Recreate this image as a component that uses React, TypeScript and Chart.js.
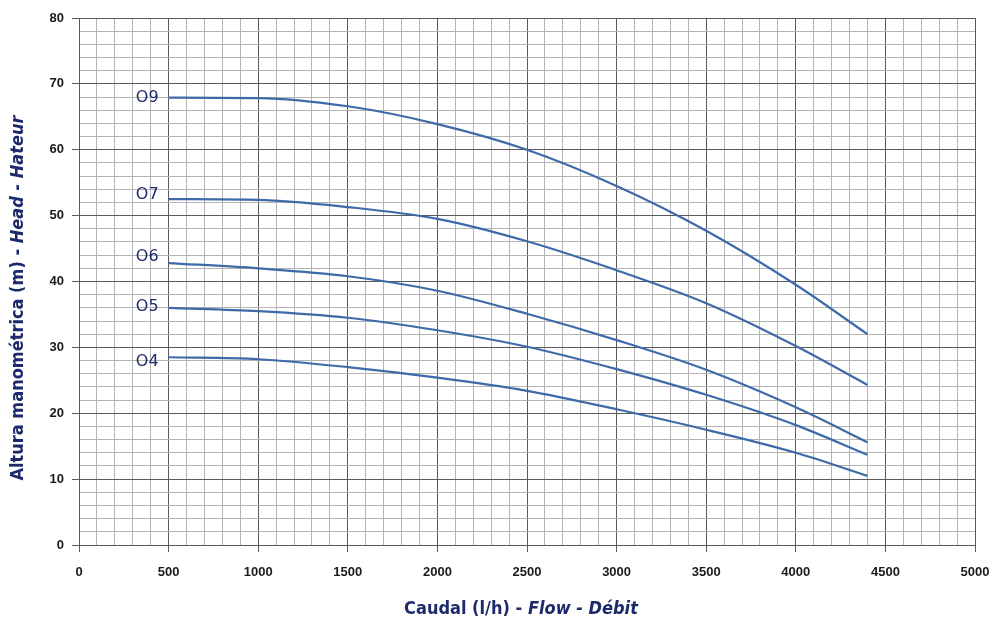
import React, { useEffect, useRef } from "react";
import { Chart, registerables } from "chart.js";

Chart.register(...registerables);

const flow = [500, 1000, 1500, 2000, 2500, 3000, 3500, 4000, 4400];
const seriesNames = ["O9", "O7", "O6", "O5", "O4"];
const head09 = [67.9, 67.85, 66.6, 63.9, 60.0, 54.5, 47.7, 39.5, 32.0];
const head07 = [52.5, 52.4, 51.3, 49.5, 46.1, 41.7, 36.7, 30.2, 24.3];
const head06 = [42.8, 42.0, 40.8, 38.6, 35.1, 31.1, 26.6, 20.9, 15.6];
const head05 = [36.0, 35.5, 34.5, 32.6, 30.1, 26.7, 22.8, 18.2, 13.7];
const head04 = [28.5, 28.2, 27.0, 25.4, 23.4, 20.6, 17.5, 14.0, 10.5];
const labelHeads = [67.9, 53.1, 43.7, 36.1, 27.8];
const xLabels = ["0", "500", "1000", "1500", "2000", "2500", "3000", "3500", "4000", "4500", "5000"];
const yLabels = ["0", "10", "20", "30", "40", "50", "60", "70", "80"];

const NAVY = "#1c2a6c";
const LINE = "#3d6aa9";

export default function App() {
  const ref = useRef<HTMLCanvasElement>(null);
  useEffect(() => {
    const all = [head09, head07, head06, head05, head04];
    const labelPlugin = {
      id: "labelsAndTitles",
      afterDraw(chart: any) {
        const ctx = chart.ctx;
        const xs = chart.scales.x;
        const ys = chart.scales.y;
        ctx.save();
        ctx.fillStyle = NAVY;
        ctx.font = "16px 'DejaVu Sans'";
        ctx.textAlign = "right";
        ctx.textBaseline = "middle";
        seriesNames.forEach((n, i) => {
          ctx.fillText(n, xs.getPixelForValue(flow[0]) - 10, ys.getPixelForValue(labelHeads[i]));
        });
        // x title
        const parts: [string, string][] = [
          ["Caudal (l/h) - ", "bold 18px 'DejaVu Sans Condensed'"],
          ["Flow - Débit", "italic bold 18px 'DejaVu Sans Condensed'"],
        ];
        let total = 0;
        parts.forEach(([t, f]) => { ctx.font = f; total += ctx.measureText(t).width; });
        let x = 521 - total / 2;
        ctx.textAlign = "left";
        ctx.textBaseline = "middle";
        parts.forEach(([t, f]) => { ctx.font = f; ctx.fillText(t, x, 609); x += ctx.measureText(t).width; });
        // y title
        const yparts: [string, string][] = [
          ["Altura manométrica (m) - ", "bold 18px 'DejaVu Sans Condensed'"],
          ["Head - Hateur", "italic bold 18px 'DejaVu Sans Condensed'"],
        ];
        total = 0;
        yparts.forEach(([t, f]) => { ctx.font = f; total += ctx.measureText(t).width; });
        ctx.translate(18, 298);
        ctx.rotate(-Math.PI / 2);
        let p = -total / 2;
        yparts.forEach(([t, f]) => { ctx.font = f; ctx.fillText(t, p, 0); p += ctx.measureText(t).width; });
        ctx.restore();
      },
    };
    const chart = new Chart(ref.current!, {
      type: "line",
      data: {
        datasets: all.map((d, i) => ({
          label: seriesNames[i],
          data: d.map((v, j) => ({ x: flow[j], y: v })),
          borderColor: LINE,
          borderWidth: 2.2,
          pointRadius: 0,
          tension: 0.4,
          cubicInterpolationMode: "monotone",
          fill: false,
        })),
      },
      options: {
        animation: false,
        responsive: false,
        maintainAspectRatio: false,
        layout: { padding: { top: 18, right: 15, left: 0, bottom: 0 } },
        plugins: { legend: { display: false }, tooltip: { enabled: false } },
        scales: {
          x: {
            type: "linear",
            min: 0,
            max: 5000,
            afterFit: (s: any) => { s.height = 74; s.paddingRight = 0; s.paddingLeft = 0; },
            afterBuildTicks: (s: any) => {
              const t = [];
              for (let v = 0; v <= 5000; v += 100) t.push({ value: v });
              s.ticks = t;
            },
            ticks: {
              autoSkip: false,
              maxRotation: 0,
              padding: 13,
              color: "#1a1a1a",
              font: { family: "'Liberation Sans'", weight: "bold", size: 13 },
              callback: (v: any) => (v % 500 === 0 ? xLabels[v / 500] : ""),
            },
            grid: {
              color: (c: any) => (c.tick && c.tick.value % 500 === 0 ? "#5a5a5a" : "#b4b4b4"),
              tickColor: (c: any) => (c.tick && c.tick.value % 500 === 0 ? "#5a5a5a" : "rgba(0,0,0,0)"),
              tickLength: 7,
              lineWidth: 1,
            },
            border: { color: "#5a5a5a" },
          },
          y: {
            type: "linear",
            min: 0,
            max: 80,
            afterFit: (s: any) => { s.width = 79; s.paddingTop = 0; s.paddingBottom = 0; },
            afterBuildTicks: (s: any) => {
              const t = [];
              for (let v = 0; v <= 80; v += 2) t.push({ value: v });
              s.ticks = t;
            },
            ticks: {
              autoSkip: false,
              padding: 8,
              color: "#1a1a1a",
              font: { family: "'Liberation Sans'", weight: "bold", size: 13 },
              callback: (v: any) => (v % 10 === 0 ? yLabels[v / 10] : ""),
            },
            grid: {
              color: (c: any) => (c.tick && c.tick.value % 10 === 0 ? "#5a5a5a" : "#b4b4b4"),
              tickColor: (c: any) => (c.tick && c.tick.value % 10 === 0 ? "#5a5a5a" : "rgba(0,0,0,0)"),
              tickLength: 7,
              lineWidth: 1,
            },
            border: { color: "#5a5a5a" },
          },
        },
      },
      plugins: [labelPlugin],
    } as any);
    return () => chart.destroy();
  }, []);
  return (
    <div style={{ position: "absolute", left: 0, top: 0, width: 990, height: 619, background: "#fff" }}>
      <canvas ref={ref} width={990} height={619} style={{ width: 990, height: 619 }} />
    </div>
  );
}
